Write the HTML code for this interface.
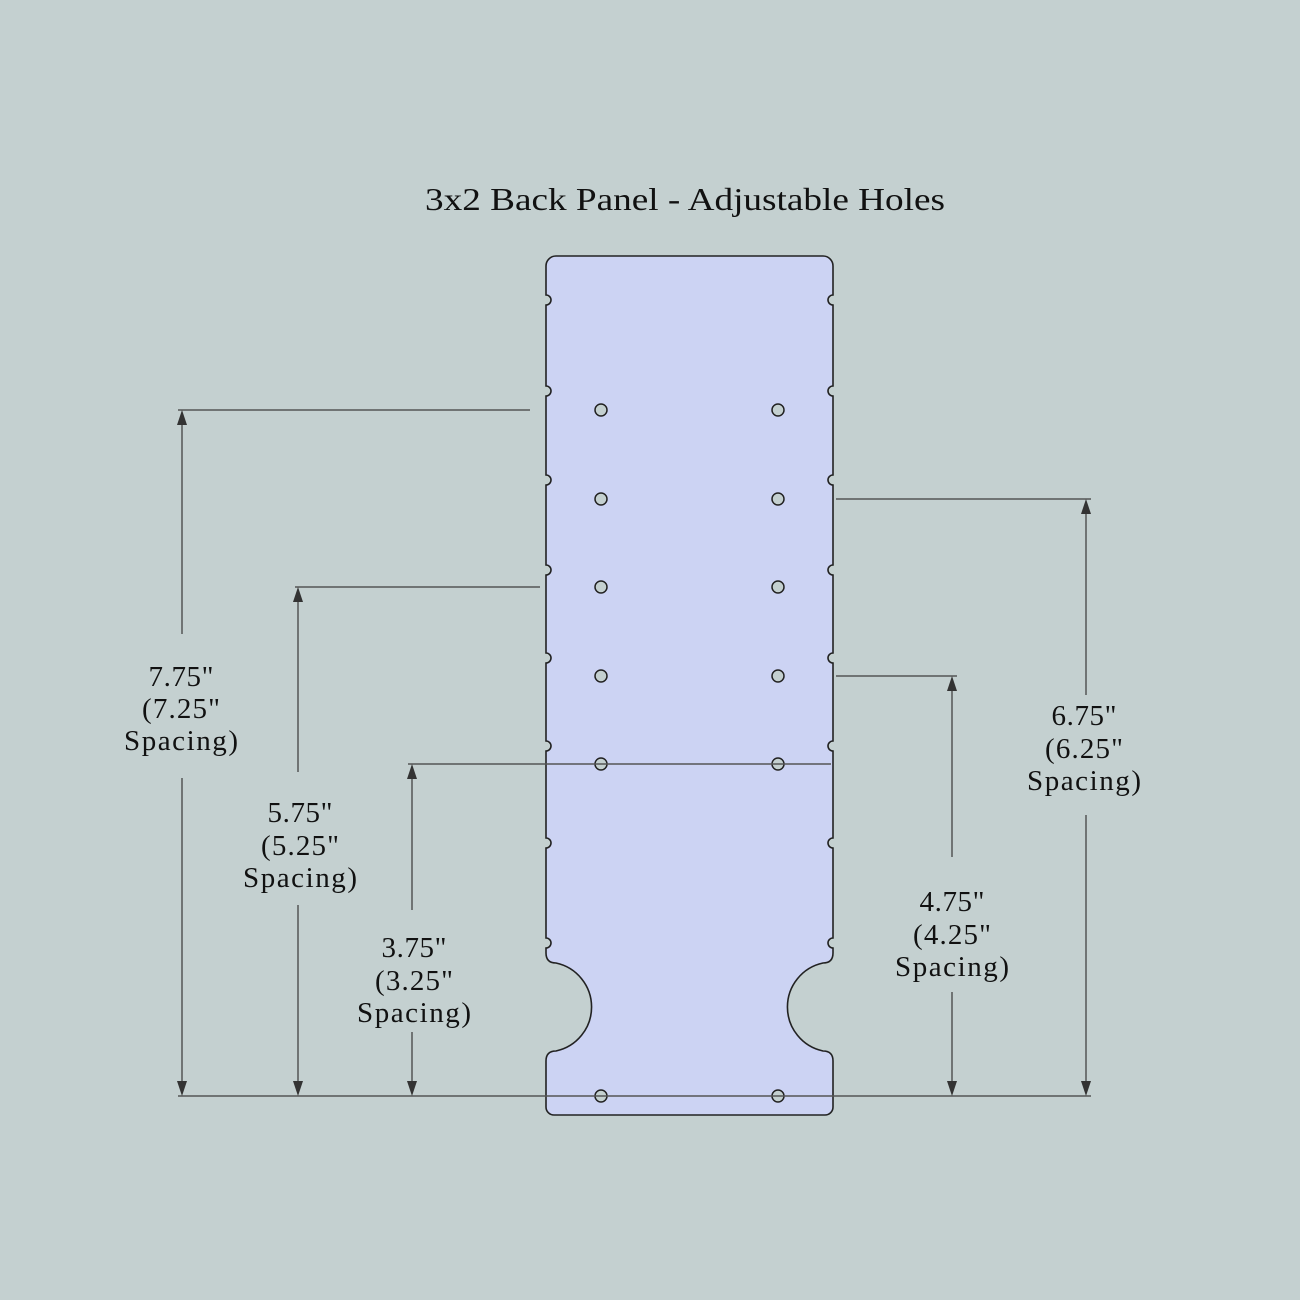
<!DOCTYPE html>
<html><head><meta charset="utf-8"><style>
html,body{margin:0;padding:0;background:#c4d0d0;}
svg{display:block}
text{font-family:"Liberation Serif",serif;fill:#111;}
</style></head><body>
<svg width="1300" height="1300" viewBox="0 0 1300 1300">
<rect width="1300" height="1300" fill="#c4d0d0"/>
<text x="685" y="210" font-size="32" text-anchor="middle" textLength="520" lengthAdjust="spacingAndGlyphs">3x2 Back Panel - Adjustable Holes</text>
<path fill="#ccd3f3" stroke="#222" stroke-width="1.6" d="
M556,256 L823,256 A10,10 0 0 1 833,266
L833,295 A5,5 0 0 0 833,305
L833,386 A5,5 0 0 0 833,396
L833,475 A5,5 0 0 0 833,485
L833,565 A5,5 0 0 0 833,575
L833,653 A5,5 0 0 0 833,663
L833,741 A5,5 0 0 0 833,751
L833,838 A5,5 0 0 0 833,848
L833,938 A5,5 0 0 0 833,948
L833,953 Q833,963 823,963 A45,45 0 0 0 823,1051 Q833,1051 833,1061
L833,1107 A8,8 0 0 1 825,1115 L554,1115 A8,8 0 0 1 546,1107
L546,1061 Q546,1051 556,1051 A45,45 0 0 0 556,963 Q546,963 546,953
L546,948 A5,5 0 0 0 546,938
L546,848 A5,5 0 0 0 546,838
L546,751 A5,5 0 0 0 546,741
L546,663 A5,5 0 0 0 546,653
L546,575 A5,5 0 0 0 546,565
L546,485 A5,5 0 0 0 546,475
L546,396 A5,5 0 0 0 546,386
L546,305 A5,5 0 0 0 546,295
L546,266 A10,10 0 0 1 556,256 Z"/>
<g fill="#c4d0d0" stroke="#222" stroke-width="1.5">
<circle cx="601" cy="410" r="6"/><circle cx="778" cy="410" r="6"/>
<circle cx="601" cy="499" r="6"/><circle cx="778" cy="499" r="6"/>
<circle cx="601" cy="587" r="6"/><circle cx="778" cy="587" r="6"/>
<circle cx="601" cy="676" r="6"/><circle cx="778" cy="676" r="6"/>
<circle cx="601" cy="764" r="6"/><circle cx="778" cy="764" r="6"/>
<circle cx="601" cy="1096" r="6"/><circle cx="778" cy="1096" r="6"/>
</g>
<g stroke="#555" stroke-width="1.5" fill="none">
<line x1="178" y1="1096" x2="1091" y2="1096"/>
<line x1="178" y1="410" x2="530" y2="410"/>
<line x1="182" y1="424" x2="182" y2="634"/><line x1="182" y1="778" x2="182" y2="1082"/>
<line x1="295" y1="587" x2="540" y2="587"/>
<line x1="298" y1="601" x2="298" y2="772"/><line x1="298" y1="905" x2="298" y2="1082"/>
<line x1="408" y1="764" x2="831" y2="764"/>
<line x1="412" y1="778" x2="412" y2="910"/><line x1="412" y1="1032" x2="412" y2="1082"/>
<line x1="836" y1="499" x2="1091" y2="499"/>
<line x1="1086" y1="513" x2="1086" y2="695"/><line x1="1086" y1="815" x2="1086" y2="1082"/>
<line x1="836" y1="676" x2="957" y2="676"/>
<line x1="952" y1="690" x2="952" y2="857"/><line x1="952" y1="992" x2="952" y2="1082"/>
</g>
<g fill="#333">
<path d="M182,410 l-5,15 h10z"/><path d="M182,1096 l-5,-15 h10z"/>
<path d="M298,587 l-5,15 h10z"/><path d="M298,1096 l-5,-15 h10z"/>
<path d="M412,764 l-5,15 h10z"/><path d="M412,1096 l-5,-15 h10z"/>
<path d="M1086,499 l-5,15 h10z"/><path d="M1086,1096 l-5,-15 h10z"/>
<path d="M952,676 l-5,15 h10z"/><path d="M952,1096 l-5,-15 h10z"/>
</g>
<g font-size="29" text-anchor="middle" lengthAdjust="spacingAndGlyphs">
<text x="181" y="686" textLength="65">7.75"</text><text x="181" y="718" textLength="78">(7.25"</text><text x="181" y="750" textLength="114">Spacing)</text>
<text x="300" y="822" textLength="65">5.75"</text><text x="300" y="855" textLength="78">(5.25"</text><text x="300" y="887" textLength="114">Spacing)</text>
<text x="414" y="957" textLength="65">3.75"</text><text x="414" y="990" textLength="78">(3.25"</text><text x="414" y="1022" textLength="114">Spacing)</text>
<text x="1084" y="725" textLength="65">6.75"</text><text x="1084" y="758" textLength="78">(6.25"</text><text x="1084" y="790" textLength="114">Spacing)</text>
<text x="952" y="911" textLength="65">4.75"</text><text x="952" y="944" textLength="78">(4.25"</text><text x="952" y="976" textLength="114">Spacing)</text>
</g>
</svg>
</body></html>
